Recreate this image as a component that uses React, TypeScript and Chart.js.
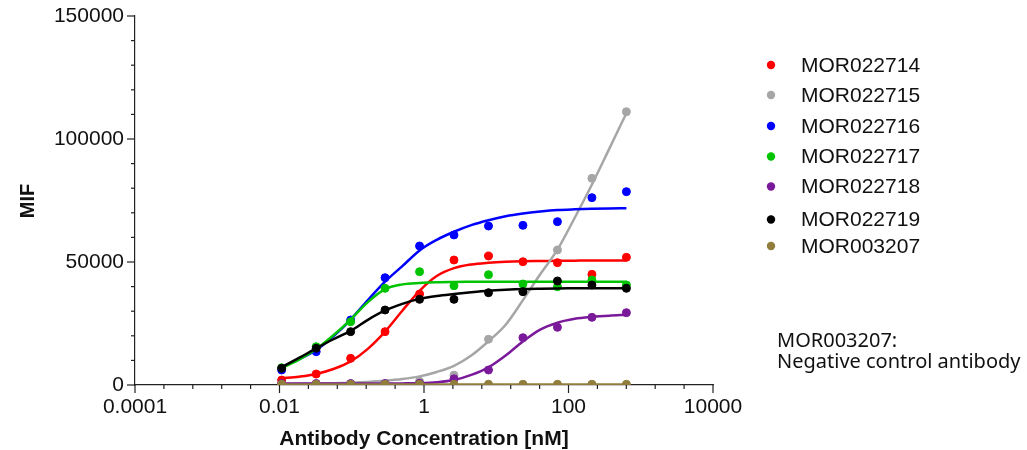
import React, { useEffect, useRef } from 'react';
import { Chart, registerables } from 'chart.js';

Chart.register(...registerables);

// ---------- data ----------
const seriesNames = ['MOR022714', 'MOR022715', 'MOR022716', 'MOR022717', 'MOR022718', 'MOR022719', 'MOR003207'];
const seriesColors = ['#ff0000', '#a6a6a6', '#0000ff', '#00c400', '#7a1a9a', '#000000', '#917e3c'];

// antibody concentration [nM] of the measured points
const concentrations = [0.0107, 0.0322, 0.0965, 0.289, 0.868, 2.6, 7.81, 23.4, 70.3, 211, 633];

// measured MIF values
const pts022714 = [2000, 4470, 10840, 21680, 36990, 50810, 52440, 50120, 49730, 45000, 51900];
const pts022715 = [300, 350, 400, 500, 1500, 4000, 18600, 38000, 54900, 84000, 111100];
const pts022716 = [6100, 13550, 26420, 43620, 56500, 61000, 64630, 64900, 66400, 76150, 78600];
const pts022717 = [7000, 15570, 25730, 39300, 46060, 40370, 44840, 41060, 39960, 42680, 40650];
const pts022718 = [600, 600, 600, 600, 680, 2500, 6100, 19230, 23450, 27500, 29400];
const pts022719 = [6790, 14920, 21680, 30490, 34820, 34820, 37520, 37930, 42280, 40650, 39310];
const pts003207 = [300, 300, 300, 300, 300, 300, 300, 300, 300, 300, 300];

// fitted curves
const curveConcentrations = [0.0107, 0.0186, 0.0322, 0.0557, 0.0965, 0.167, 0.289, 0.501, 0.868, 1.5, 2.6, 4.51, 7.81, 13.5, 23.4, 40.6, 70.3, 122, 211, 366, 633];
const fit022714 = [2700, 3400, 4500, 6500, 9600, 14700, 21700, 30200, 38300, 44300, 47500, 49000, 49700, 50100, 50300, 50400, 50500, 50550, 50600, 50600, 50600];
const fit022715 = [400, 500, 600, 750, 950, 1250, 1700, 2400, 3500, 5300, 7800, 12000, 17800, 24500, 34500, 45000, 55000, 68000, 81500, 96000, 110500];
const fit022716 = [7400, 10400, 14200, 19800, 26600, 34500, 42000, 48300, 54700, 59000, 62300, 65000, 67000, 68600, 69700, 70500, 71100, 71400, 71600, 71750, 71850];
const fit022717 = [6800, 10300, 14600, 20200, 26600, 33700, 39000, 40900, 41500, 41800, 41900, 41950, 42000, 42000, 42000, 42000, 42000, 42000, 42000, 42000, 42000];
const fit022718 = [600, 600, 600, 600, 600, 610, 620, 650, 750, 1100, 2000, 4100, 7200, 12000, 17700, 22500, 25300, 26900, 27700, 28200, 28500];
const fit022719 = [7200, 11000, 14900, 18600, 22000, 26500, 30300, 33000, 35000, 36200, 37000, 37700, 38300, 38700, 39000, 39150, 39250, 39300, 39350, 39350, 39400];
const fit003207 = [250, 250, 250, 250, 250, 250, 250, 250, 250, 250, 250, 250, 250, 250, 250, 250, 250, 250, 250, 250, 250];

const seriesPoints = [pts022714, pts022715, pts022716, pts022717, pts022718, pts022719, pts003207];
const seriesFits = [fit022714, fit022715, fit022716, fit022717, fit022718, fit022719, fit003207];

// axes
const xMajorTicks = [0.0001, 0.01, 1, 100, 10000];
const xTickLabels = ['0.0001', '0.01', '1', '100', '10000'];
const yMajorTicks = [0, 50000, 100000, 150000];
const yTickLabels = ['0', '50000', '100000', '150000'];
const xTitle = 'Antibody Concentration [nM]';
const yTitle = 'MIF';
const noteLines = ['MOR003207:', 'Negative control antibody'];

const AXIS = '#222222';
const SANS = '"Liberation Sans", Arial, sans-serif';

function isMajorX(v: number) {
  return xMajorTicks.some((m) => Math.abs(Math.log10(m) - Math.log10(v)) < 1e-6);
}

const decor = {
  id: 'decor',
  afterDraw(chart: any) {
    const ctx = chart.ctx as CanvasRenderingContext2D;
    const xs = chart.scales.x;
    const ys = chart.scales.y;
    const area = chart.chartArea;
    ctx.save();
    ctx.strokeStyle = AXIS;
    ctx.lineWidth = 1.2;
    // x tick marks
    xs.ticks.forEach((t: any) => {
      const px = xs.getPixelForValue(t.value);
      const len = isMajorX(t.value) ? 8 : 4;
      ctx.beginPath();
      ctx.moveTo(px, area.bottom);
      ctx.lineTo(px, area.bottom + len);
      ctx.stroke();
    });
    // y tick marks
    ys.ticks.forEach((t: any) => {
      const py = ys.getPixelForValue(t.value);
      const len = yMajorTicks.indexOf(t.value) >= 0 ? 8 : 4;
      ctx.beginPath();
      ctx.moveTo(area.left - len, py);
      ctx.lineTo(area.left, py);
      ctx.stroke();
    });

    // axis titles
    ctx.fillStyle = '#111111';
    ctx.font = `bold 21px ${SANS}`;
    ctx.textAlign = 'center';
    ctx.textBaseline = 'alphabetic';
    ctx.fillText(xTitle, (area.left + area.right) / 2, 445);
    ctx.save();
    ctx.translate(34, 201);
    ctx.rotate(-Math.PI / 2);
    ctx.font = `bold 20px ${SANS}`;
    ctx.fillText(yTitle, 0, 0);
    ctx.restore();

    // legend
    const legendY = [65, 95, 126, 156.5, 186.5, 219.5, 246];
    ctx.font = `21px ${SANS}`;
    ctx.textAlign = 'left';
    ctx.textBaseline = 'middle';
    seriesNames.forEach((name, i) => {
      ctx.fillStyle = seriesColors[i];
      ctx.beginPath();
      ctx.arc(771, legendY[i], 4.2, 0, Math.PI * 2);
      ctx.fill();
      ctx.fillStyle = '#111111';
      ctx.fillText(name, 801, legendY[i] + 1);
    });

    // note
    ctx.font = `20px "Noto Sans", "DejaVu Sans", sans-serif`;
    ctx.textBaseline = 'alphabetic';
    ctx.fillStyle = '#111111';
    ctx.fillText(noteLines[0], 777, 347);
    ctx.fillText(noteLines[1], 777, 368);
    ctx.restore();
  },
};

export default function App() {
  const ref = useRef<HTMLCanvasElement | null>(null);

  useEffect(() => {
    if (!ref.current) return;
    const datasets: any[] = [];
    seriesNames.forEach((name, i) => {
      datasets.push({
        label: name + ' fit',
        data: curveConcentrations.map((x, k) => ({ x, y: seriesFits[i][k] })),
        showLine: true,
        borderColor: seriesColors[i],
        backgroundColor: seriesColors[i],
        borderWidth: 2.5,
        pointRadius: 0,
        pointHoverRadius: 0,
        cubicInterpolationMode: 'monotone',
        fill: false,
        order: 100 - 2 * i,
      });
      datasets.push({
        label: name,
        data: concentrations.map((x, k) => ({ x, y: seriesPoints[i][k] })),
        showLine: false,
        borderColor: seriesColors[i],
        backgroundColor: seriesColors[i],
        borderWidth: 1,
        pointRadius: 4,
        pointStyle: 'circle',
        order: 99 - 2 * i,
      });
    });

    const chart = new Chart(ref.current, {
      type: 'scatter',
      data: { datasets },
      plugins: [decor],
      options: {
        animation: false,
        responsive: false,
        devicePixelRatio: 1,
        layout: { padding: { left: 0, top: 16, right: 314, bottom: 0 } },
        plugins: { legend: { display: false }, tooltip: { enabled: false }, title: { display: false } },
        scales: {
          x: {
            type: 'logarithmic',
            min: 0.0001,
            max: 10000,
            afterBuildTicks: (scale: any) => {
              const vals: number[] = [];
              xMajorTicks.forEach((m, i) => {
                vals.push(m);
                if (i < xMajorTicks.length - 1) {
                  for (let j = 1; j < 5; j++) vals.push(m * Math.pow(10, 0.4 * j));
                }
              });
              scale.ticks = vals.map((v) => ({ value: v }));
            },
            afterFit: (scale: any) => {
              scale.height = 65;
            },
            grid: { display: true, drawOnChartArea: false, drawTicks: true, tickLength: 8, color: 'rgba(0,0,0,0)', tickColor: 'rgba(0,0,0,0)' },
            border: { display: true, color: AXIS, width: 1.2 },
            ticks: {
              autoSkip: false,
              maxRotation: 0,
              minRotation: 0,
              padding: 2,
              color: '#111111',
              font: { family: SANS, size: 21 },
              callback: (value: any) => {
                const idx = xMajorTicks.findIndex((m) => Math.abs(Math.log10(m) - Math.log10(Number(value))) < 1e-6);
                return idx >= 0 ? xTickLabels[idx] : '';
              },
            },
          },
          y: {
            type: 'linear',
            min: 0,
            max: 150000,
            afterFit: (scale: any) => {
              scale.width = 135;
            },
            grid: { display: true, drawOnChartArea: false, drawTicks: true, tickLength: 8, color: 'rgba(0,0,0,0)', tickColor: 'rgba(0,0,0,0)' },
            border: { display: true, color: AXIS, width: 1.2 },
            ticks: {
              stepSize: 10000,
              autoSkip: false,
              padding: 3,
              color: '#111111',
              font: { family: SANS, size: 21 },
              callback: (value: any) => {
                const idx = yMajorTicks.indexOf(Number(value));
                return idx >= 0 ? yTickLabels[idx] : '';
              },
            },
          },
        },
      },
    } as any);
    return () => chart.destroy();
  }, []);

  return (
    <div style={{ position: 'absolute', left: 0, top: 0, width: 1027, height: 450, background: '#ffffff' }}>
      <canvas ref={ref} width={1027} height={450} style={{ width: 1027, height: 450 }} />
    </div>
  );
}
